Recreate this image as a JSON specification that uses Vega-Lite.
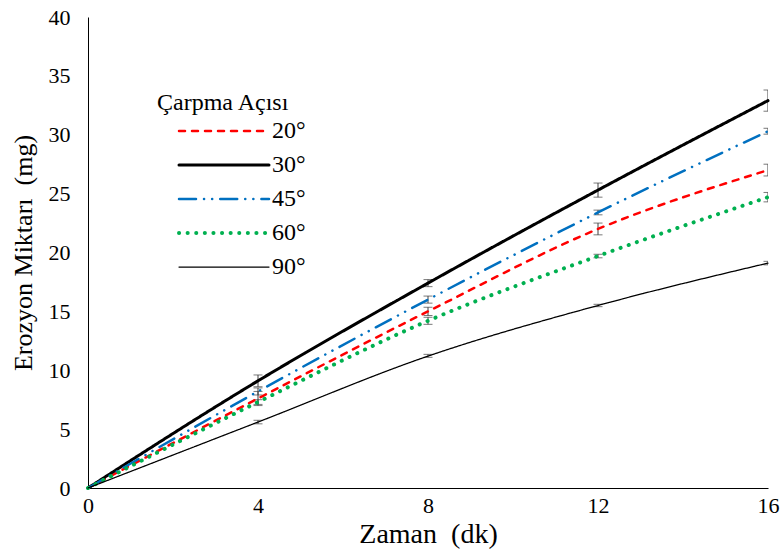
{
  "$schema": "https://vega.github.io/schema/vega-lite/v6.json",
  "width": 680,
  "height": 471,
  "autosize": {"type": "none"},
  "padding": {"left": 88, "top": 17, "right": 16, "bottom": 66},
  "background": "white",
  "config": {
    "view": {"stroke": null},
    "font": "Liberation Serif",
    "style": {"guide-label": {"font": "Liberation Serif"}, "guide-title": {"font": "Liberation Serif"}},
    "axis": {"grid": false, "ticks": false, "labelFlush": false, "domainColor": "#000000", "domainWidth": 1, "labelColor": "#000000", "titleColor": "#000000", "labelFont": "Liberation Serif", "titleFont": "Liberation Serif", "labelFontSize": 22, "titleFontSize": 28, "titleFontWeight": "normal"}
  },
  "datasets": {
    "lines": [
      {"t": 0, "angle": "20°", "v": 0}, {"t": 4, "angle": "20°", "v": 7.6}, {"t": 8, "angle": "20°", "v": 15.0}, {"t": 12, "angle": "20°", "v": 22.0}, {"t": 16, "angle": "20°", "v": 27.0},
      {"t": 0, "angle": "30°", "v": 0}, {"t": 4, "angle": "30°", "v": 9.1}, {"t": 8, "angle": "30°", "v": 17.4}, {"t": 12, "angle": "30°", "v": 25.3}, {"t": 16, "angle": "30°", "v": 32.9},
      {"t": 0, "angle": "45°", "v": 0}, {"t": 4, "angle": "45°", "v": 8.2}, {"t": 8, "angle": "45°", "v": 16.0}, {"t": 12, "angle": "45°", "v": 23.4}, {"t": 16, "angle": "45°", "v": 30.3},
      {"t": 0, "angle": "60°", "v": 0}, {"t": 4, "angle": "60°", "v": 7.3}, {"t": 8, "angle": "60°", "v": 14.2}, {"t": 12, "angle": "60°", "v": 19.7}, {"t": 16, "angle": "60°", "v": 24.7},
      {"t": 0, "angle": "90°", "v": 0}, {"t": 4, "angle": "90°", "v": 5.6}, {"t": 8, "angle": "90°", "v": 11.2}, {"t": 12, "angle": "90°", "v": 15.5}, {"t": 16, "angle": "90°", "v": 19.1}
    ],
    "errs": [
      {"t": 4, "s": "20", "lo": 7.0, "hi": 8.2}, {"t": 8, "s": "20", "lo": 14.65, "hi": 15.35}, {"t": 12, "s": "20", "lo": 21.5, "hi": 22.5}, {"t": 16, "s": "20", "lo": 26.5, "hi": 27.5},
      {"t": 4, "s": "30", "lo": 8.6, "hi": 9.6}, {"t": 8, "s": "30", "lo": 17.1, "hi": 17.7}, {"t": 12, "s": "30", "lo": 24.7, "hi": 25.9}, {"t": 16, "s": "30", "lo": 32.0, "hi": 33.8},
      {"t": 4, "s": "45", "lo": 7.9, "hi": 8.5}, {"t": 8, "s": "45", "lo": 15.7, "hi": 16.3}, {"t": 12, "s": "45", "lo": 23.2, "hi": 23.6}, {"t": 16, "s": "45", "lo": 30.05, "hi": 30.55},
      {"t": 4, "s": "60", "lo": 7.1, "hi": 7.5}, {"t": 8, "s": "60", "lo": 13.9, "hi": 14.5}, {"t": 12, "s": "60", "lo": 19.55, "hi": 19.85}, {"t": 16, "s": "60", "lo": 24.3, "hi": 25.1},
      {"t": 4, "s": "90", "lo": 5.45, "hi": 5.75}, {"t": 8, "s": "90", "lo": 11.1, "hi": 11.35}, {"t": 12, "s": "90", "lo": 15.4, "hi": 15.6}, {"t": 16, "s": "90", "lo": 18.95, "hi": 19.25}
    ]
  },
  "layer": [
    {
      "data": {"name": "errs"},
      "mark": {"type": "rule", "color": "#404040", "strokeWidth": 1, "clip": true},
      "encoding": {
        "x": {"field": "t", "type": "quantitative"},
        "y": {"field": "lo", "type": "quantitative"},
        "y2": {"field": "hi"}
      }
    },
    {
      "data": {"name": "errs"},
      "mark": {"type": "tick", "orient": "horizontal", "color": "#404040", "thickness": 1, "size": 9, "clip": true},
      "encoding": {
        "x": {"field": "t", "type": "quantitative"},
        "y": {"field": "lo", "type": "quantitative"}
      }
    },
    {
      "data": {"name": "errs"},
      "mark": {"type": "tick", "orient": "horizontal", "color": "#404040", "thickness": 1, "size": 9, "clip": true},
      "encoding": {
        "x": {"field": "t", "type": "quantitative"},
        "y": {"field": "hi", "type": "quantitative"}
      }
    },
    {
      "data": {"name": "lines"},
      "mark": {"type": "line", "interpolate": "monotone", "strokeCap": "round"},
      "encoding": {
        "x": {"field": "t", "type": "quantitative", "scale": {"domain": [0, 16], "nice": false}, "axis": {"values": [0, 4, 8, 12, 16], "title": "Zaman\u00a0\u00a0(dk)", "labelPadding": 7, "titlePadding": 4, "labelFlush": false, "labelFont": "Liberation Serif"}},
        "y": {"field": "v", "type": "quantitative", "scale": {"domain": [0, 40], "nice": false}, "axis": {"values": [0, 5, 10, 15, 20, 25, 30, 35, 40], "title": "Erozyon Miktarı\u00a0\u00a0(mg)", "titleFontSize": 26, "labelPadding": 18, "titlePadding": 12, "labelFlush": false, "labelFont": "Liberation Serif"}},
        "color": {
          "field": "angle", "type": "nominal",
          "scale": {"domain": ["20°", "30°", "45°", "60°", "90°"], "range": ["#FF0000", "#000000", "#0070C0", "#00B050", "#000000"]},
          "legend": {"title": "Çarpma Açısı", "orient": "none", "legendX": 69, "legendY": 74, "titleFont": "Liberation Serif", "titleFontSize": 24, "titleFontWeight": "normal", "titleColor": "#000000", "titlePadding": 4, "labelFont": "Liberation Serif", "labelFontSize": 24, "labelColor": "#000000", "symbolType": "M-5,0L5,0", "symbolSize": 324, "symbolOffset": 55, "labelOffset": 36, "rowPadding": 10, "encode": {"symbols": {"update": {"strokeCap": {"value": "round"}}}}}
        },
        "strokeDash": {
          "field": "angle", "type": "nominal",
          "scale": {"domain": ["20°", "30°", "45°", "60°", "90°"], "range": [[6, 7], [1, 0], [17, 8, 0.1, 8, 0.1, 8], [0.1, 8.5], [1, 0]]}
        },
        "strokeWidth": {
          "field": "angle", "type": "nominal",
          "scale": {"type": "ordinal", "domain": ["20°", "30°", "45°", "60°", "90°"], "range": [2.5, 3, 2.5, 4, 1.25]}
        }
      }
    }
  ]
}
